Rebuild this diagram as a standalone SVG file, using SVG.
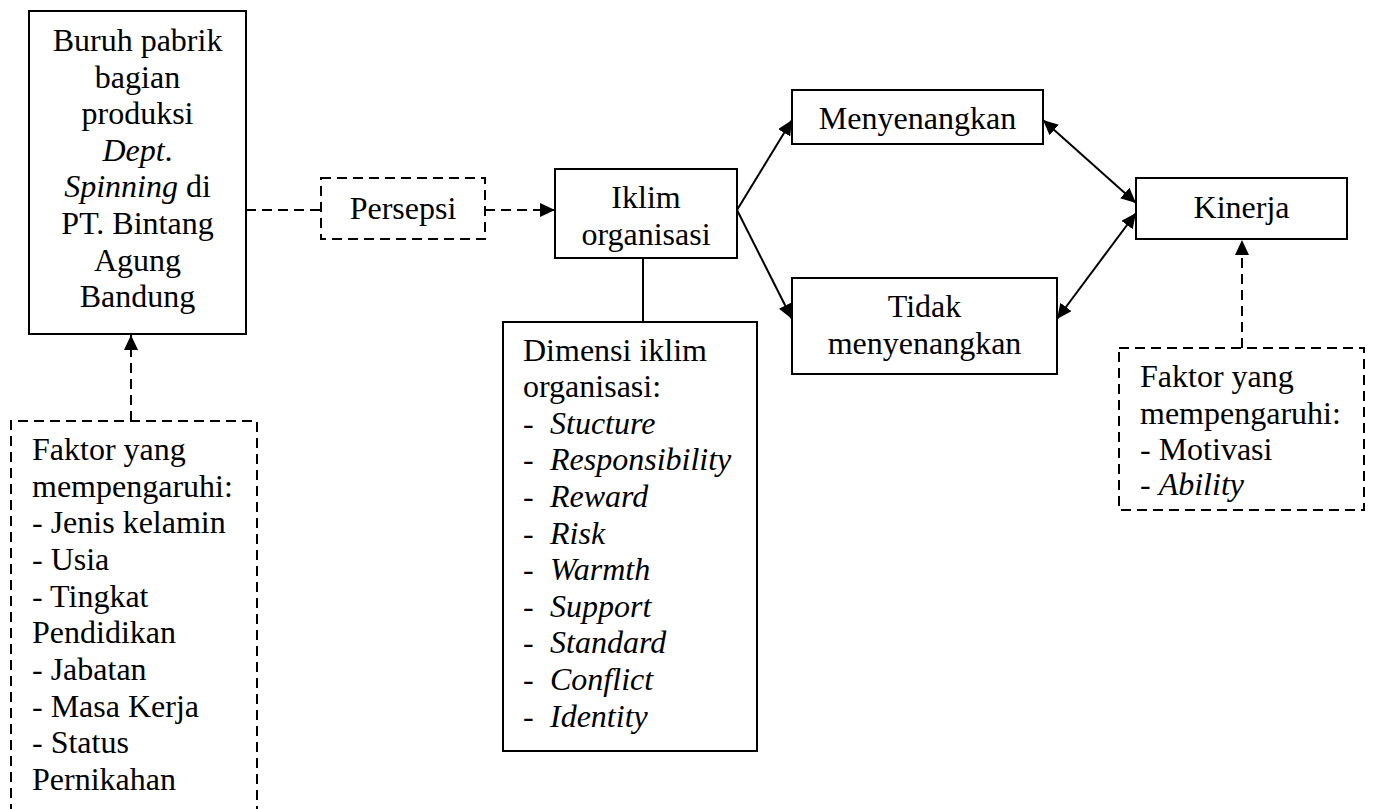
<svg xmlns="http://www.w3.org/2000/svg" width="1376" height="809" viewBox="0 0 1376 809">
<style>
text{font-family:"Liberation Serif","Times New Roman",serif;font-size:32px;fill:#000}
.c{text-anchor:middle}
.i{font-style:italic}
.box{fill:#fff;stroke:#000;stroke-width:2}
.dbox{fill:#fff;stroke:#000;stroke-width:2;stroke-dasharray:10 6}
.ln{fill:none;stroke:#000;stroke-width:2}
.dln{fill:none;stroke:#000;stroke-width:2;stroke-dasharray:10 6}
</style>
<defs>
<marker id="arr" markerUnits="userSpaceOnUse" markerWidth="16" markerHeight="14" refX="15" refY="7" orient="auto-start-reverse">
<path d="M0,0 L15,7 L0,14 z" fill="#000"/>
</marker>
</defs>
<rect width="1376" height="809" fill="#fff"/>
<g id="connectors">
<line class="dln" x1="246" y1="210" x2="321" y2="210"/>
<line class="dln" x1="485" y1="210" x2="555" y2="210" marker-end="url(#arr)"/>
<line class="ln" x1="643" y1="258" x2="643" y2="322"/>
<line class="ln" x1="737" y1="210" x2="792" y2="120" marker-end="url(#arr)"/>
<line class="ln" x1="737" y1="210" x2="792" y2="319" marker-end="url(#arr)"/>
<line class="ln" x1="1043" y1="120" x2="1136" y2="203" marker-start="url(#arr)" marker-end="url(#arr)"/>
<line class="ln" x1="1057" y1="319" x2="1136" y2="213" marker-start="url(#arr)" marker-end="url(#arr)"/>
<polyline class="dln" points="1242,348 1242,240" marker-end="url(#arr)"/>
<polyline class="dln" points="131,421 131,335" marker-end="url(#arr)"/>
</g>
<g id="buruh">
<rect class="box" x="29" y="11" width="217" height="323"/>
<text class="c" x="137.5" y="51">Buruh pabrik</text>
<text class="c" x="137.5" y="87.6">bagian</text>
<text class="c" x="137.5" y="124.2">produksi</text>
<text class="c" x="137.5" y="160.8"><tspan class="i">Dept</tspan>.</text>
<text class="c" x="137.5" y="197.4"><tspan class="i">Spinning</tspan> di</text>
<text class="c" x="137.5" y="234">PT. Bintang</text>
<text class="c" x="137.5" y="270.6">Agung</text>
<text class="c" x="137.5" y="307.2">Bandung</text>
</g>
<g id="persepsi">
<rect class="dbox" x="321" y="178" width="164" height="61"/>
<text class="c" x="403" y="219">Persepsi</text>
</g>
<g id="iklim">
<rect class="box" x="555" y="169" width="182" height="89"/>
<text class="c" x="646" y="208">Iklim</text>
<text class="c" x="646" y="244.6">organisasi</text>
</g>
<g id="dimensi">
<rect class="box" x="503" y="322" width="254" height="429"/>
<text x="523" y="360.5">Dimensi iklim</text>
<text x="523" y="397.1">organisasi:</text>
<text y="433.7"><tspan x="523">-</tspan><tspan x="550" class="i">Stucture</tspan></text>
<text y="470.3"><tspan x="523">-</tspan><tspan x="550" class="i">Responsibility</tspan></text>
<text y="506.9"><tspan x="523">-</tspan><tspan x="550" class="i">Reward</tspan></text>
<text y="543.5"><tspan x="523">-</tspan><tspan x="550" class="i">Risk</tspan></text>
<text y="580.1"><tspan x="523">-</tspan><tspan x="550" class="i">Warmth</tspan></text>
<text y="616.7"><tspan x="523">-</tspan><tspan x="550" class="i">Support</tspan></text>
<text y="653.3"><tspan x="523">-</tspan><tspan x="550" class="i">Standard</tspan></text>
<text y="689.9"><tspan x="523">-</tspan><tspan x="550" class="i">Conflict</tspan></text>
<text y="726.5"><tspan x="523">-</tspan><tspan x="550" class="i">Identity</tspan></text>
</g>
<g id="menyenangkan">
<rect class="box" x="792" y="90" width="251" height="54"/>
<text class="c" x="917.5" y="129.3">Menyenangkan</text>
</g>
<g id="tidak">
<rect class="box" x="792" y="278" width="265" height="96"/>
<text class="c" x="924.5" y="317.3">Tidak</text>
<text class="c" x="924.5" y="354">menyenangkan</text>
</g>
<g id="kinerja">
<rect class="box" x="1136" y="178" width="211" height="61"/>
<text class="c" x="1241.5" y="218.3">Kinerja</text>
</g>
<g id="faktor-kinerja">
<rect class="dbox" x="1119" y="348" width="245" height="162"/>
<text x="1140" y="387">Faktor yang</text>
<text x="1140" y="423.6">mempengaruhi:</text>
<text x="1140" y="460.2">- Motivasi</text>
<text x="1140" y="494.8">- <tspan class="i">Ability</tspan></text>
</g>
<g id="faktor-buruh">
<path class="dln" d="M11,830 L11,421 L257,421 L257,830"/>
<text x="32" y="460">Faktor yang</text>
<text x="32" y="496.7">mempengaruhi:</text>
<text x="32" y="533.3">- Jenis kelamin</text>
<text x="32" y="570">- Usia</text>
<text x="32" y="606.7">- Tingkat</text>
<text x="32" y="643.3">Pendidikan</text>
<text x="32" y="680">- Jabatan</text>
<text x="32" y="716.7">- Masa Kerja</text>
<text x="32" y="753.3">- Status</text>
<text x="32" y="790">Pernikahan</text>
</g>
</svg>
